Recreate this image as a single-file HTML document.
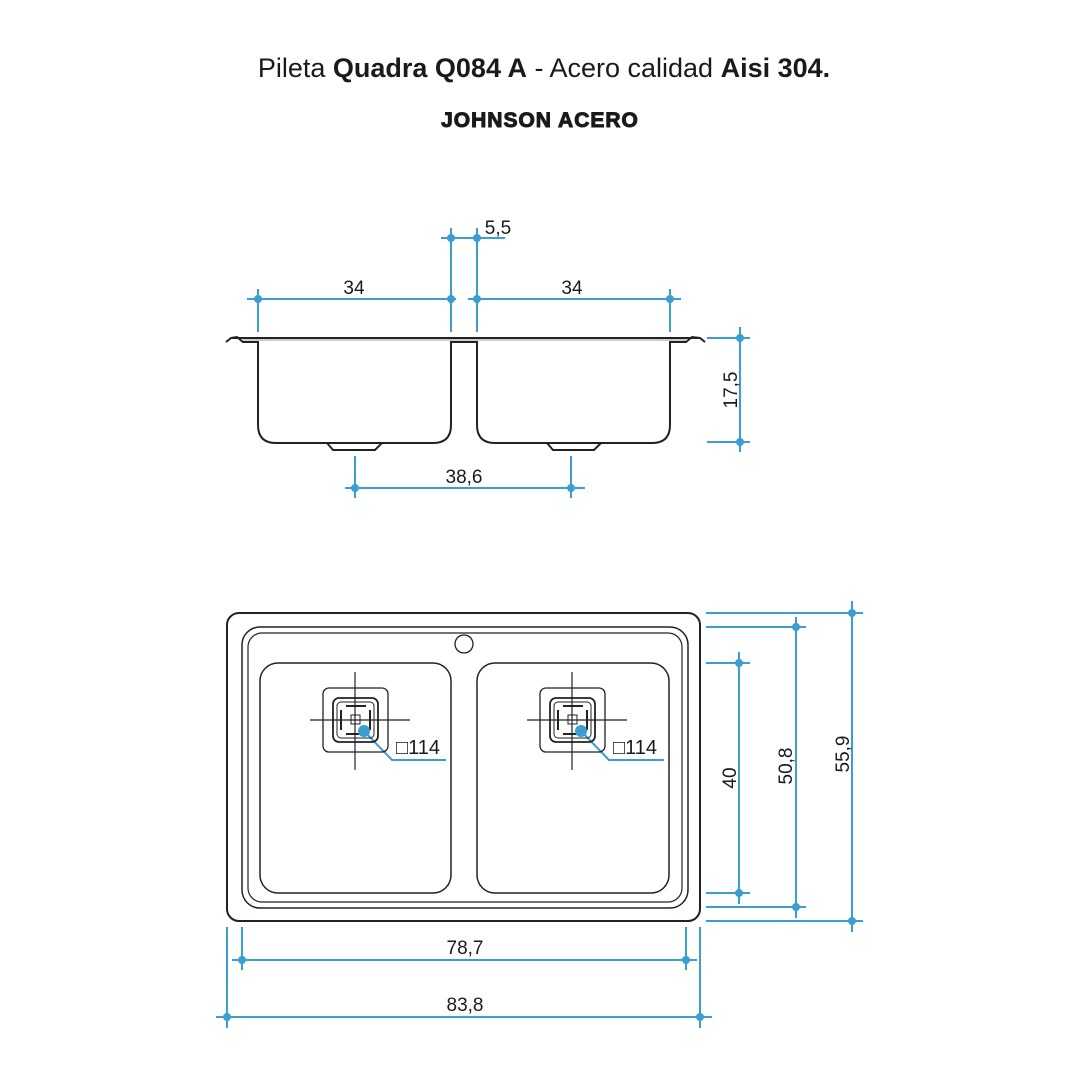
<!DOCTYPE html>
<html><head><meta charset="utf-8"><style>
html,body{margin:0;padding:0;background:#fff;}
svg{display:block;}
text{font-family:"Liberation Sans",sans-serif;fill:#1a1a1a;}
</style></head><body>
<svg width="1080" height="1080" viewBox="0 0 1080 1080" xmlns="http://www.w3.org/2000/svg">
<rect width="1080" height="1080" fill="#fff"/>
<text x="544" y="77" font-size="27" text-anchor="middle">Pileta <tspan font-weight="bold">Quadra Q084 A</tspan> - Acero calidad <tspan font-weight="bold">Aisi 304.</tspan></text>
<text x="540" y="127" font-size="21" font-weight="bold" text-anchor="middle" letter-spacing="1" style="stroke:#1a1a1a;stroke-width:1">JOHNSON ACERO</text>

<!-- side view -->
<g fill="none" stroke="#222" stroke-width="2">
<path d="M226,342 L231,338 L700,338 L705,342"/>
<path d="M231,338 L237,337 L243,342 L258,342 L258,425 Q258,443 276,443 L433,443 Q451,443 451,425 L451,342 L477,342 L477,425 Q477,443 495,443 L652,443 Q670,443 670,425 L670,342 L686,342 L692,337 L700,338" />
<path d="M327,443 L333,450 L375,450 L382,443"/>
<path d="M547,443 L553,450 L594,450 L601,443"/>
</g>
<line x1="243" y1="340" x2="686" y2="340" stroke="#999" stroke-width="1"/>

<g stroke="#3a9fd0" stroke-width="2" fill="none">
<line x1="441" y1="238" x2="505" y2="238"/>
<line x1="451" y1="228" x2="451" y2="332"/>
<line x1="477" y1="228" x2="477" y2="332"/>
<line x1="247" y1="299" x2="456" y2="299"/>
<line x1="468" y1="299" x2="681" y2="299"/>
<line x1="258" y1="289" x2="258" y2="332"/>
<line x1="670" y1="289" x2="670" y2="332"/>
<line x1="740" y1="327" x2="740" y2="452"/>
<line x1="707" y1="338" x2="750" y2="338"/>
<line x1="707" y1="442" x2="750" y2="442"/>
<line x1="345" y1="488" x2="585" y2="488"/>
<line x1="355" y1="456" x2="355" y2="498"/>
<line x1="571" y1="456" x2="571" y2="498"/>
<line x1="852" y1="601" x2="852" y2="932"/>
<line x1="796" y1="617" x2="796" y2="918"/>
<line x1="739" y1="652" x2="739" y2="904"/>
<line x1="706" y1="613" x2="863" y2="613"/>
<line x1="706" y1="627" x2="806" y2="627"/>
<line x1="706" y1="663" x2="750" y2="663"/>
<line x1="706" y1="893" x2="750" y2="893"/>
<line x1="706" y1="907" x2="806" y2="907"/>
<line x1="706" y1="921" x2="863" y2="921"/>
<line x1="232" y1="960" x2="697" y2="960"/>
<line x1="242" y1="927" x2="242" y2="970"/>
<line x1="686" y1="927" x2="686" y2="970"/>
<line x1="216" y1="1017" x2="712" y2="1017"/>
<line x1="227" y1="927" x2="227" y2="1028"/>
<line x1="700" y1="927" x2="700" y2="1028"/>
<polyline points="364,731 392,760 446,760"/>
<polyline points="581,731 609,760 664,760"/>
</g>
<g fill="#3a9fd0">
<circle cx="451" cy="238" r="4"/><circle cx="477" cy="238" r="4"/>
<circle cx="258" cy="299" r="4"/><circle cx="451" cy="299" r="4"/>
<circle cx="477" cy="299" r="4"/><circle cx="670" cy="299" r="4"/>
<circle cx="740" cy="338" r="4"/><circle cx="740" cy="442" r="4"/>
<circle cx="355" cy="488" r="4"/><circle cx="571" cy="488" r="4"/>
<circle cx="852" cy="613" r="4"/><circle cx="852" cy="921" r="4"/>
<circle cx="796" cy="627" r="4"/><circle cx="796" cy="907" r="4"/>
<circle cx="739" cy="663" r="4"/><circle cx="739" cy="893" r="4"/>
<circle cx="242" cy="960" r="4"/><circle cx="686" cy="960" r="4"/>
<circle cx="227" cy="1017" r="4"/><circle cx="700" cy="1017" r="4"/>
</g>

<text x="354" y="294" font-size="19" text-anchor="middle">34</text>
<text x="572" y="294" font-size="19" text-anchor="middle">34</text>
<text x="498" y="234" font-size="19" text-anchor="middle">5,5</text>
<text x="464" y="483" font-size="19" text-anchor="middle">38,6</text>
<text transform="translate(737,390) rotate(-90)" font-size="19" text-anchor="middle">17,5</text>
<text transform="translate(736,778) rotate(-90)" font-size="19" text-anchor="middle">40</text>
<text transform="translate(792,766) rotate(-90)" font-size="19" text-anchor="middle">50,8</text>
<text transform="translate(849,754) rotate(-90)" font-size="19" text-anchor="middle">55,9</text>
<text x="465" y="954" font-size="19" text-anchor="middle">78,7</text>
<text x="465" y="1011" font-size="19" text-anchor="middle">83,8</text>

<g fill="none" stroke="#222">
<rect x="227" y="613" width="473" height="308" rx="12" stroke-width="2"/>
<rect x="242" y="627" width="446" height="281" rx="18" stroke-width="1.5"/>
<rect x="248" y="633" width="434" height="269" rx="14" stroke-width="1.2"/>
<circle cx="464" cy="644" r="9" stroke-width="1.3"/>
<rect x="260" y="663" width="191" height="230" rx="18" stroke-width="1.5"/>
<rect x="477" y="663" width="192" height="230" rx="18" stroke-width="1.5"/>
</g>
<g id="drain" fill="none" stroke="#222">
<rect x="323" y="688" width="65" height="64" rx="6" stroke-width="1.3"/>
<rect x="333" y="698" width="45" height="44" rx="6" stroke-width="1.8"/>
<rect x="337" y="702" width="37" height="36" rx="4" stroke-width="1"/>
<line x1="346" y1="706" x2="366" y2="706" stroke-width="2"/>
<line x1="346" y1="734" x2="366" y2="734" stroke-width="2"/>
<line x1="341" y1="710" x2="341" y2="730" stroke-width="2"/>
<line x1="370" y1="710" x2="370" y2="730" stroke-width="2"/>
<line x1="310" y1="720" x2="410" y2="720" stroke-width="1.2"/>
<line x1="355" y1="672" x2="355" y2="770" stroke-width="1.2"/>
<rect x="351" y="715" width="9" height="9" stroke-width="1"/>
</g>
<use href="#drain" transform="translate(217,0)"/>
<g fill="#3a9fd0"><circle cx="364" cy="731" r="6"/><circle cx="581" cy="731" r="6"/></g>
<text x="396" y="754" font-size="20">□114</text>
<text x="613" y="754" font-size="20">□114</text>
</svg>
</body></html>
